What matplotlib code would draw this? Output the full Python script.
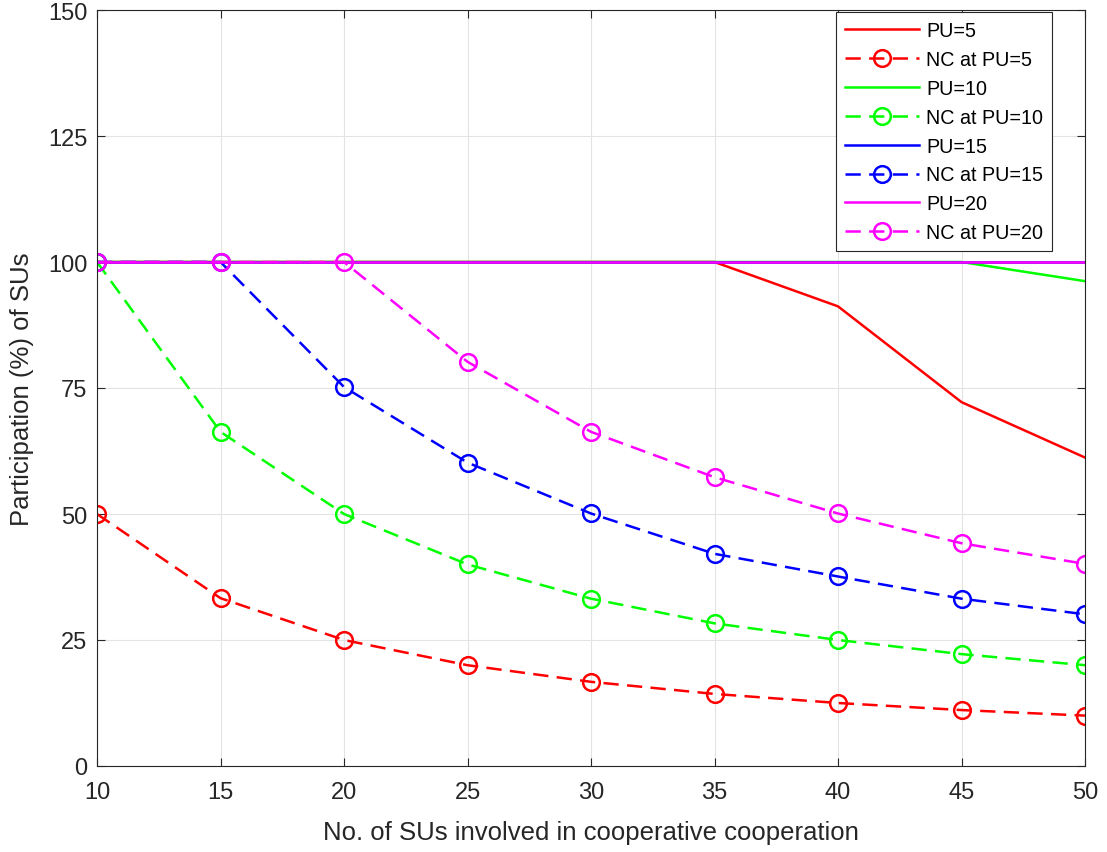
import matplotlib
matplotlib.use("Agg")
import matplotlib.pyplot as plt

plt.rcParams['font.family'] = ['Liberation Sans', 'DejaVu Sans']
plt.rcParams['lines.scale_dashes'] = False

su = [10, 15, 20, 25, 30, 35, 40, 45, 50]
pu5 = [100, 100, 100, 100, 100, 100, 91.2, 72.2, 61.2]
nc_pu5 = [50, 33.3, 25, 20, 16.7, 14.3, 12.5, 11.1, 10]
pu10 = [100, 100, 100, 100, 100, 100, 100, 100, 96.2]
nc_pu10 = [100, 66.3, 50, 40, 33.2, 28.3, 25, 22.2, 20]
pu15 = [100, 100, 100, 100, 100, 100, 100, 100, 100]
nc_pu15 = [100, 100, 75.2, 60.2, 50.1, 42.1, 37.6, 33.2, 30.1]
pu20 = [100, 100, 100, 100, 100, 100, 100, 100, 100]
nc_pu20 = [100, 100, 100, 80.2, 66.3, 57.3, 50.1, 44.2, 40.1]

series = [
    ("PU=5", pu5, "#ff0000", False),
    ("NC at PU=5", nc_pu5, "#ff0000", True),
    ("PU=10", pu10, "#00ff00", False),
    ("NC at PU=10", nc_pu10, "#00ff00", True),
    ("PU=15", pu15, "#0000ff", False),
    ("NC at PU=15", nc_pu15, "#0000ff", True),
    ("PU=20", pu20, "#ff00ff", False),
    ("NC at PU=20", nc_pu20, "#ff00ff", True),
]

fig = plt.figure(figsize=(11.07, 8.53), dpi=100)
ax = fig.add_axes([97/1107, (853-767)/853, (1085-97)/1107, (767-11)/853])

for label, vals, col, dashed in series:
    if dashed:
        ax.plot(su, vals, color=col, lw=1.8, linestyle=(0, (11, 6)),
                marker='o', markersize=12, markerfacecolor='none',
                markeredgewidth=1.8, label=label)
    else:
        ax.plot(su, vals, color=col, lw=1.8, label=label)

ax.set_xlim(10, 50)
ax.set_ylim(0, 150)
ax.set_xticks(range(10, 51, 5))
ax.set_yticks(range(0, 151, 25))
ax.grid(True, color='#e3e3e3', lw=0.8)
ax.set_axisbelow(True)
ax.tick_params(direction='in', top=True, right=True, labelsize=17,
               colors='#262626', length=6, width=0.8)
ax.tick_params(axis='x', pad=11)
ax.tick_params(axis='y', pad=7)
for s in ax.spines.values():
    s.set_color('#262626')
    s.set_linewidth(0.8)

ax.set_xlabel("No. of SUs involved in cooperative cooperation", fontsize=18.5, color='#262626', labelpad=12)
ax.set_ylabel("Participation (%) of SUs", fontsize=18.5, color='#262626', labelpad=10)

leg = ax.legend(loc='upper right', bbox_to_anchor=(0.9666, 0.997), borderaxespad=0,
                fontsize=14.2, handlelength=3.75, fancybox=False, framealpha=1,
                edgecolor='#262626', labelspacing=0.5, handletextpad=0.35,
                borderpad=0.45)
leg.get_frame().set_linewidth(0.8)

fig.savefig("out.png", dpi=100)
